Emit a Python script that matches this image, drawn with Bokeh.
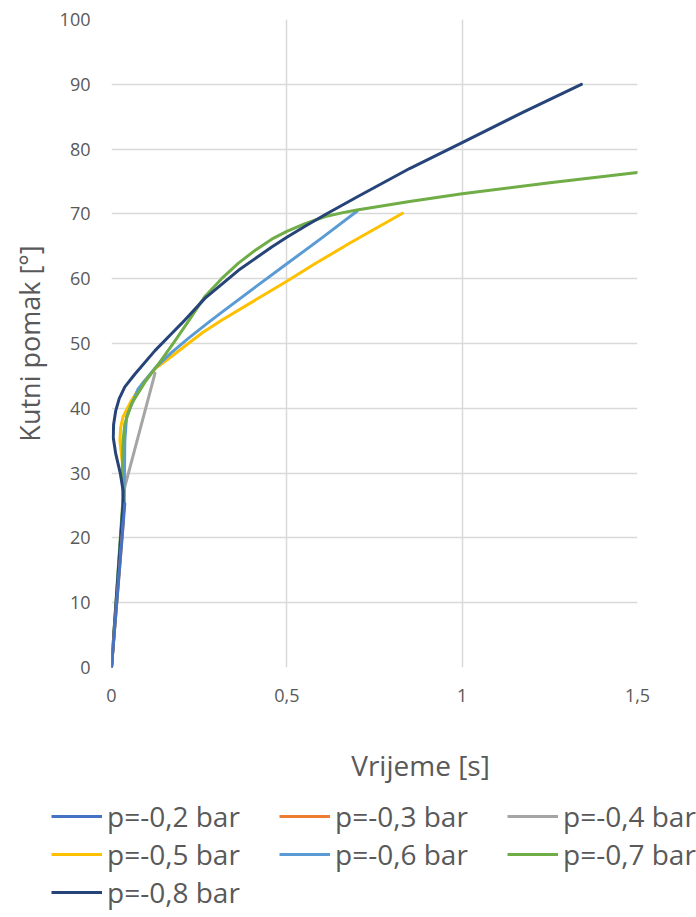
from bokeh.plotting import figure
from bokeh.models import Range1d, FixedTicker, Legend, LegendItem, Label
from bokeh.embed import file_html
from bokeh.resources import INLINE

# ---- data (time [s], angular displacement [deg]) ----
labels = ["p=-0,2 bar", "p=-0,3 bar", "p=-0,4 bar", "p=-0,5 bar",
          "p=-0,6 bar", "p=-0,7 bar", "p=-0,8 bar"]
colors = ["#4472C4", "#ED7D31", "#A5A5A5", "#FFC000", "#5B9BD5", "#70AD47", "#264478"]

t_02 = [0, 0.038]
a_02 = [0, 25.3]

t_03 = [0, 0.0342]
a_03 = [0, 22.8]

t_04 = [0, 0.036, 0.124]
a_04 = [0, 27.5, 45.4]

t_05 = [0, 0.036, 0.037, 0.030, 0.024, 0.026, 0.033, 0.057, 0.090, 0.124, 0.171, 0.219, 0.260, 0.314, 0.410, 0.500, 0.580, 0.680, 0.830]
a_05 = [0, 25.0, 29.0, 32.0, 35.0, 37.0, 38.7, 41.2, 44.0, 46.1, 48.0, 50.0, 51.7, 53.6, 56.7, 59.6, 62.3, 65.5, 70.1]

t_06 = [0, 0.036, 0.037, 0.038, 0.043, 0.076, 0.124, 0.171, 0.219, 0.273, 0.314, 0.410, 0.500, 0.600, 0.700]
a_06 = [0, 25.0, 30.0, 35.0, 38.7, 43.0, 46.2, 48.6, 50.8, 53.1, 54.8, 58.7, 62.3, 66.3, 70.4]

t_07 = [0, 0.033, 0.031, 0.033, 0.038, 0.057, 0.095, 0.143, 0.181, 0.220, 0.267, 0.314, 0.362, 0.410, 0.457, 0.500, 0.552, 0.610, 0.660, 0.700, 0.850, 1.000, 1.250, 1.500]
a_07 = [0, 26.3, 30.0, 35.0, 37.6, 40.7, 44.0, 47.5, 50.4, 53.5, 57.3, 60.0, 62.4, 64.4, 66.1, 67.3, 68.5, 69.6, 70.2, 70.6, 71.9, 73.1, 74.8, 76.4]

t_08 = [0, 0.033, 0.033, 0.025, 0.012, 0.005, 0.006, 0.012, 0.022, 0.038, 0.067, 0.124, 0.171, 0.200, 0.267, 0.362, 0.457, 0.500, 0.552, 0.610, 0.700, 0.850, 1.000, 1.170, 1.340]
a_08 = [0, 25.3, 27.3, 30.0, 33.0, 35.5, 37.5, 39.6, 41.5, 43.3, 45.3, 48.9, 51.5, 53.1, 57.0, 61.3, 64.9, 66.4, 68.1, 69.9, 72.6, 77.0, 81.0, 85.6, 90.0]

series_t = [t_02, t_03, t_04, t_05, t_06, t_07, t_08]
series_a = [a_02, a_03, a_04, a_05, a_06, a_07, a_08]

x_ticks = [0, 0.5, 1, 1.5]
x_tick_labels = ["0", "0,5", "1", "1,5"]
y_ticks = [0, 10, 20, 30, 40, 50, 60, 70, 80, 90, 100]

x_title = "Vrijeme [s]"
y_title = "Kutni pomak [°]"

FONT = "Open Sans"
TXT = "#595959"
GRID = "#D9D9D9"

# ---------------- main chart ----------------
p = figure(width=696, height=714, output_backend="svg", toolbar_location=None,
           x_range=Range1d(0, 1.5), y_range=Range1d(0, 100),
           min_border_left=111, min_border_right=59, min_border_top=19,
           min_border_bottom=47)
p.outline_line_color = None
p.background_fill_color = "white"
p.border_fill_color = "white"

p.xaxis.ticker = FixedTicker(ticks=x_ticks)
p.xaxis.major_label_overrides = {t: l for t, l in zip(x_ticks, x_tick_labels)}
p.yaxis.ticker = FixedTicker(ticks=y_ticks)
for ax in (p.xaxis[0], p.yaxis[0]):
    ax.axis_line_color = None
    ax.major_tick_line_color = None
    ax.minor_tick_line_color = None
    ax.major_tick_out = 0
    ax.major_tick_in = 0
    ax.major_label_text_font = FONT
    ax.major_label_text_font_size = "18px"
    ax.major_label_text_color = TXT
p.yaxis.major_label_standoff = 21
p.xaxis.major_label_standoff = 21
p.yaxis.axis_label = y_title
p.yaxis.axis_label_text_font = FONT
p.yaxis.axis_label_text_font_size = "27px"
p.yaxis.axis_label_text_font_style = "normal"
p.yaxis.axis_label_text_color = TXT
p.yaxis.axis_label_standoff = 9

p.xgrid.grid_line_color = GRID
p.ygrid.grid_line_color = GRID
p.xgrid.grid_line_width = 1.5
p.ygrid.grid_line_width = 1.5

# draw order: longer series first, short -0,3 and -0,2 on top
for i in [2, 3, 4, 5, 6, 1, 0]:
    p.line(series_t[i], series_a[i], line_color=colors[i], line_width=3,
           line_join="round", line_cap="round")

# ---------------- x title + legend strip (separate root, full-width frame) ----------------
H2 = 203
q = figure(width=696, height=H2, output_backend="svg", toolbar_location=None,
           x_range=Range1d(0, 696), y_range=Range1d(H2, 0),
           x_axis_type=None, y_axis_type=None,
           min_border_left=0, min_border_right=0, min_border_top=0, min_border_bottom=0)
q.outline_line_color = None
q.background_fill_color = "white"
q.border_fill_color = "white"
q.grid.grid_line_color = None

q.add_layout(Label(x=420, y=50, text=x_title, text_font=FONT, text_font_size="28px",
                   text_color=TXT, text_align="center", text_baseline="middle"))

# legend proxies: one point of each series (a single point draws no line)
leg_renderers = [q.line(series_t[i][-1:], series_a[i][-1:], line_color=colors[i],
                        line_width=3) for i in range(7)]
items = [LegendItem(label=labels[i], renderers=[leg_renderers[i]]) for i in range(7)]
legend = Legend(items=items, location=(51, 6), orientation="horizontal", ncols=3,
                label_text_font=FONT, label_text_font_size="28px", label_text_color=TXT,
                glyph_width=51, glyph_height=20, label_standoff=5, label_height=20,
                label_width=172, spacing=-3, padding=0, margin=0,
                border_line_color=None, background_fill_alpha=0)
q.add_layout(legend, "center")

open("out.html", "w").write(file_html([p, q], INLINE))
